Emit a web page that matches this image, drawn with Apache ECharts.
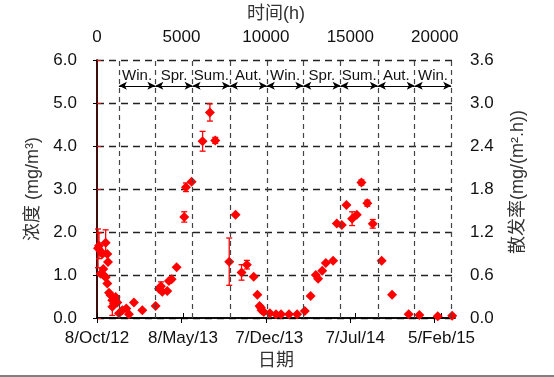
<!DOCTYPE html>
<html>
<head>
<meta charset="utf-8">
<script src="https://cdn.jsdelivr.net/npm/echarts@6/dist/echarts.min.js"></script>
<style>
  html, body { margin: 0; padding: 0; background: #fff; }
  #chart { width: 554px; height: 377px; }
</style>
</head>
<body>
<div id="chart"></div>
<script>
// elapsed time (h) since 8/Oct/12, concentration (mg/m3), error half-width
const hours = [60, 118, 218, 316, 513, 612, 651, 218, 375, 414, 513, 612, 710, 809, 907, 1006, 1105, 1203, 907, 1302,
  1499, 1736, 1893, 2189, 2682, 3472, 3669, 3787, 3866, 4162, 4260, 4418, 4714, 5168, 5266, 5602, 6253, 6686, 7002, 7830,
  8207, 8560, 8876, 9280, 9497, 9625, 9704, 9744, 9880, 10236, 10600, 10900, 11370, 11852, 12307, 12652, 12958, 13094, 13340, 13550,
  13983, 14200, 14497, 14773, 15108, 15384, 15660, 16008, 16330, 16860, 17473, 18459, 19090, 20177, 21034];
const conc = [1.62, 1.68, 1.55, 1.49, 1.75, 1.49, 1.30, 1.03, 1.14, 0.99, 0.95, 0.80, 0.59, 0.53, 0.41, 0.34, 0.49, 0.36, 0.26, 0.11,
  0.18, 0.22, 0.085, 0.36, 0.18, 0.28, 0.68, 0.74, 0.61, 0.63, 0.86, 0.90, 1.18, 2.35, 3.04, 3.17, 4.11, 4.78, 4.13, 1.31,
  2.40, 1.06, 1.24, 0.96, 0.54, 0.28, 0.24, 0.18, 0.14, 0.11, 0.09, 0.09, 0.09, 0.085, 0.16, 0.51, 1.00, 0.91, 1.10, 1.28,
  1.33, 2.20, 2.16, 2.63, 2.31, 2.40, 3.15, 2.67, 2.19, 1.33, 0.54, 0.09, 0.07, 0.04, 0.05];
const err = [0.45, 0.3, 0, 0, 0.3, 0, 0, 0, 0, 0, 0, 0, 0, 0, 0, 0, 0, 0, 0.2, 0,
  0, 0, 0, 0, 0, 0, 0, 0.1, 0, 0, 0, 0, 0, 0.12, 0.1, 0, 0.23, 0.2, 0.07, 0.55,
  0, 0.18, 0.1, 0, 0, 0, 0, 0, 0, 0, 0, 0, 0, 0, 0, 0, 0, 0, 0, 0,
  0, 0, 0, 0, 0.16, 0, 0.06, 0.07, 0.1, 0, 0, 0, 0, 0, 0];

// season boundaries (h) and names
const seasonBounds = [1296, 3456, 5664, 7872, 10056, 12216, 14424, 16632, 18816, 20976];
const seasonNames = ['Win.', 'Spr.', 'Sum.', 'Aut.', 'Win.', 'Spr.', 'Sum.', 'Aut.', 'Win.'];
const arrowLevel = 5.4;

// bottom date ticks (h)
const dateTickHours = [0, 5088, 10200, 15288, 20400];
const dateTickLabels = ['8/Oct/12', '8/May/13', '7/Dec/13', '7/Jul/14', '5/Feb/15'];

const RED = '#f00';
const latin = "'Liberation Sans', Arial, sans-serif";
const cjk = "'Liberation Sans', 'Noto Sans CJK SC', sans-serif";

const chart = echarts.init(document.getElementById('chart'));

const points = hours.map((h, i) => [h, conc[i]]);
const bars = hours.map((h, i) => [h, conc[i] - err[i], conc[i] + err[i]]).filter((d, i) => err[i] > 0);

const arrowLines = seasonNames.map((n, i) => [
  { name: n, coord: [seasonBounds[i], arrowLevel] },
  { coord: [seasonBounds[i + 1], arrowLevel] },
]);

const option = {
  animation: false,
  textStyle: { fontFamily: latin },
  grid: { left: 97, right: 99, top: 57, bottom: 59, containLabel: false },
  xAxis: [
    {
      type: 'value',
      position: 'bottom',
      min: 0,
      max: 21200,
      name: '日期',
      nameLocation: 'middle',
      nameGap: 30,
      nameTextStyle: { fontFamily: cjk, fontSize: 18, color: '#333' },
      axisLine: { lineStyle: { color: '#000', width: 1.5 } },
      axisTick: { inside: true, length: 5, customValues: dateTickHours, lineStyle: { color: '#000' } },
      axisLabel: {
        customValues: dateTickHours,
        fontSize: 17,
        color: '#111',
        margin: 12,
        formatter: (v) => dateTickLabels[dateTickHours.indexOf(v)] || '',
      },
      splitLine: { show: false },
    },
    {
      type: 'value',
      position: 'top',
      min: 0,
      max: 21200,
      interval: 5000,
      name: '时间(h)',
      nameLocation: 'middle',
      nameGap: 37,
      nameTextStyle: { fontFamily: cjk, fontSize: 18, color: '#333' },
      axisLine: { lineStyle: { color: '#000', width: 1.5 } },
      axisTick: { inside: true, length: 5, lineStyle: { color: '#000' } },
      axisLabel: { fontSize: 17, color: '#111', margin: 14, formatter: (v) => String(v) },
      splitLine: { show: false },
    },
  ],
  yAxis: [
    {
      type: 'value',
      position: 'left',
      min: 0,
      max: 6,
      interval: 1,
      name: '浓度 (mg/m³)',
      nameLocation: 'middle',
      nameGap: 53,
      nameTextStyle: { fontFamily: cjk, fontSize: 18, color: '#333' },
      axisLine: { show: true, lineStyle: { color: RED, width: 1.6 } },
      axisTick: { show: true, inside: true, length: 4, lineStyle: { color: RED } },
      axisLabel: { fontSize: 17, color: '#111', margin: 20, formatter: (v) => v.toFixed(1) },
      splitLine: { show: true, lineStyle: { color: '#222', type: [7, 5], width: 1.3 } },
    },
    {
      type: 'value',
      position: 'right',
      min: 0,
      max: 3.6,
      interval: 0.6,
      name: '散发率(mg/(m².h))',
      nameLocation: 'middle',
      nameGap: 54,
      nameTextStyle: { fontFamily: cjk, fontSize: 18, color: '#333', padding: [0, 0, 0, 14] },
      axisLine: { show: true, lineStyle: { color: '#000', width: 1.5 } },
      axisTick: { show: true, inside: true, length: 4, lineStyle: { color: '#000' } },
      axisLabel: { fontSize: 17, color: '#111', margin: 15, formatter: (v) => v.toFixed(1) },
      splitLine: { show: false },
    },
  ],
  series: [
    {
      name: 'seasons',
      type: 'scatter',
      xAxisIndex: 0,
      yAxisIndex: 0,
      data: [],
      markLine: {
        silent: true,
        symbol: ['none', 'none'],
        label: { show: false },
        lineStyle: { color: '#444', type: [5, 4], width: 1.2 },
        data: seasonBounds.map((b) => ({ xAxis: b })),
      },
    },
    {
      name: 'arrows',
      type: 'scatter',
      xAxisIndex: 0,
      yAxisIndex: 0,
      data: [],
      markLine: {
        silent: true,
        symbol: ['arrow', 'arrow'],
        symbolSize: [6, 8],
        lineStyle: { color: '#000', type: 'solid', width: 1.2 },
        label: {
          show: true,
          position: 'middle',
          formatter: '{b}',
          fontSize: 15,
          color: '#111',
          distance: 2,
          fontFamily: latin,
        },
        data: arrowLines,
      },
    },
    {
      name: 'err',
      type: 'custom',
      xAxisIndex: 0,
      yAxisIndex: 0,
      data: bars,
      encode: { x: 0, y: [1, 2] },
      z: 3,
      renderItem: (params, api) => {
        const x = api.value(0);
        const lo = api.coord([x, api.value(1)]);
        const hi = api.coord([x, api.value(2)]);
        const w = 3;
        const st = { stroke: RED, lineWidth: 1.3 };
        return {
          type: 'group',
          children: [
            { type: 'line', shape: { x1: lo[0], y1: lo[1], x2: hi[0], y2: hi[1] }, style: st },
            { type: 'line', shape: { x1: lo[0] - w, y1: lo[1], x2: lo[0] + w, y2: lo[1] }, style: st },
            { type: 'line', shape: { x1: hi[0] - w, y1: hi[1], x2: hi[0] + w, y2: hi[1] }, style: st },
          ],
        };
      },
    },
    {
      name: 'conc',
      type: 'scatter',
      xAxisIndex: 0,
      yAxisIndex: 0,
      symbol: 'diamond',
      symbolSize: 10,
      itemStyle: { color: RED, opacity: 1 },
      z: 4,
      data: points,
    },
  ],
  graphic: [
    { type: 'line', shape: { x1: 0, y1: 376, x2: 554, y2: 376 }, style: { stroke: '#000', lineWidth: 1 } },
  ],
};

chart.setOption(option);
</script>
</body>
</html>
